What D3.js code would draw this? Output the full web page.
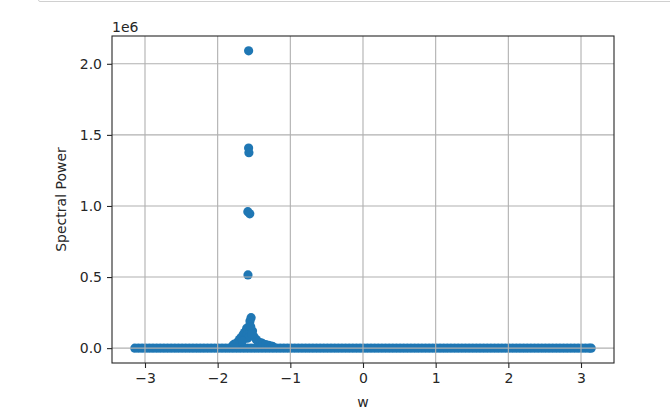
<!DOCTYPE html>
<html lang="en">
<head>
<meta charset="UTF-8">
<title>Spectral Power</title>
<script src="https://d3js.org/d3.v7.min.js"></script>
<style>
    body { margin: 0; background: #fff; }
    text { font-family: "DejaVu Sans", sans-serif; fill: #262626; }
    .grid line { stroke: #b0b0b0; stroke-width: 1.1px; }
    .tick line { stroke: #262626; }
</style>
</head>
<body>
<svg width="670" height="415"></svg>
<script>
// x values of the flat band of points (power ~ 0)
var baseW = [-3.14,-3.09,-3.04,-2.99,-2.94,-2.89,-2.84,-2.79,-2.74,-2.69,-2.64,-2.59,-2.54,-2.49,-2.44,-2.39,
    -2.34,-2.29,-2.24,-2.19,-2.14,-2.09,-2.04,-1.99,-1.94,-1.89,-1.84,-1.79,-1.74,-1.69,-1.64,-1.59,
    -1.54,-1.49,-1.44,-1.39,-1.34,-1.29,-1.24,-1.19,-1.14,-1.09,-1.04,-0.99,-0.94,-0.89,-0.84,-0.79,
    -0.74,-0.69,-0.64,-0.59,-0.54,-0.49,-0.44,-0.39,-0.34,-0.29,-0.24,-0.19,-0.14,-0.09,-0.04,0.01,
    0.06,0.11,0.16,0.21,0.26,0.31,0.36,0.41,0.46,0.51,0.56,0.61,0.66,0.71,0.76,0.81,
    0.86,0.91,0.96,1.01,1.06,1.11,1.16,1.21,1.26,1.31,1.36,1.41,1.46,1.51,1.56,1.61,
    1.66,1.71,1.76,1.81,1.86,1.91,1.96,2.01,2.06,2.11,2.16,2.21,2.26,2.31,2.36,2.41,
    2.46,2.51,2.56,2.61,2.66,2.71,2.76,2.81,2.86,2.91,2.96,3.01,3.06,3.11,3.14];
var basePower = 0;

// points around the peak near w = -pi/2 (power in units of 1e6)
var peakW = [-1.574, -1.574, -1.570, -1.585, -1.558, -1.583, -1.540, -1.555, -1.560, -1.600,
    -1.610, -1.630, -1.650, -1.680, -1.700, -1.720, -1.750, -1.790, -1.520, -1.500,
    -1.470, -1.440, -1.400, -1.380, -1.340, -1.300, -1.260, -1.240, -1.600, -1.590,
    -1.545, -1.530, -1.660, -1.770];
var peakP = [2.091, 1.407, 1.375, 0.960, 0.945, 0.515, 0.214, 0.190, 0.160, 0.140,
    0.120, 0.110, 0.095, 0.073, 0.060, 0.045, 0.030, 0.021, 0.120, 0.080,
    0.060, 0.045, 0.037, 0.030, 0.025, 0.020, 0.015, 0.010, 0.090, 0.070,
    0.150, 0.100, 0.050, 0.028];

var xTicks = [-3, -2, -1, 0, 1, 2, 3];
var yTicks = [0, 0.5, 1.0, 1.5, 2.0];

var points = baseW.map(function (w) { return {w: w, p: basePower}; })
    .concat(peakW.map(function (w, i) { return {w: w, p: peakP[i]}; }));

var svg = d3.select("svg");
var margin = {left: 112, top: 36, right: 56, bottom: 52};
var width = 670 - margin.left - margin.right,
    height = 415 - margin.top - margin.bottom;

// jupyter output cell border
svg.append("path")
    .attr("d", "M38.5,0 Q38.5,1.5 40,1.5 L670,1.5")
    .attr("fill", "none")
    .attr("stroke", "#d0d0d0")
    .attr("stroke-width", 1);

var g = svg.append("g").attr("transform", "translate(" + margin.left + "," + margin.top + ")");

// matplotlib style 5% margins
var xExt = d3.extent(points, function (d) { return d.w; }),
    yExt = d3.extent(points, function (d) { return d.p; });
var xPad = (xExt[1] - xExt[0]) * 0.05, yPad = (yExt[1] - yExt[0]) * 0.05;

var x = d3.scaleLinear().domain([xExt[0] - xPad, xExt[1] + xPad]).range([0, width]);
var y = d3.scaleLinear().domain([yExt[0] - yPad, yExt[1] + yPad]).range([height, 0]);

// points
g.append("g").selectAll("circle")
    .data(points).enter().append("circle")
    .attr("cx", function (d) { return x(d.w); })
    .attr("cy", function (d) { return y(d.p); })
    .attr("r", 4.6)
    .attr("fill", "#1f77b4");

// grid (drawn over the markers, like matplotlib)
var grid = g.append("g").attr("class", "grid");
grid.selectAll(".gx").data(xTicks).enter().append("line")
    .attr("x1", function (d) { return x(d); }).attr("x2", function (d) { return x(d); })
    .attr("y1", 0).attr("y2", height);
grid.selectAll(".gy").data(yTicks).enter().append("line")
    .attr("y1", function (d) { return y(d); }).attr("y2", function (d) { return y(d); })
    .attr("x1", 0).attr("x2", width);

// axes
var xAxis = d3.axisBottom(x).tickValues(xTicks).tickSize(5).tickPadding(5)
    .tickFormat(function (d) { return d < 0 ? "\u2212" + Math.abs(d) : d; });
var yAxis = d3.axisLeft(y).tickValues(yTicks).tickSize(5).tickPadding(5)
    .tickFormat(d3.format(".1f"));

var gx = g.append("g").attr("transform", "translate(0," + height + ")").call(xAxis);
var gy = g.append("g").call(yAxis);
[gx, gy].forEach(function (a) {
    a.select(".domain").remove();
    a.selectAll("text").style("font-size", "14px").attr("fill", "#262626");
    a.selectAll(".tick line").attr("stroke-width", 1.1);
});

// frame
g.append("rect")
    .attr("width", width).attr("height", height)
    .attr("fill", "none").attr("stroke", "#262626").attr("stroke-width", 1.1);

// labels
g.append("text")
    .attr("x", 0).attr("y", -4)
    .style("font-size", "14px")
    .text("1e6");

g.append("text")
    .attr("x", width / 2).attr("y", height + 44)
    .attr("text-anchor", "middle")
    .style("font-size", "14px")
    .text("w");

g.append("text")
    .attr("transform", "translate(" + (-46) + "," + (height / 2) + ") rotate(-90)")
    .attr("text-anchor", "middle")
    .style("font-size", "14px")
    .text("Spectral Power");
</script>
</body>
</html>
